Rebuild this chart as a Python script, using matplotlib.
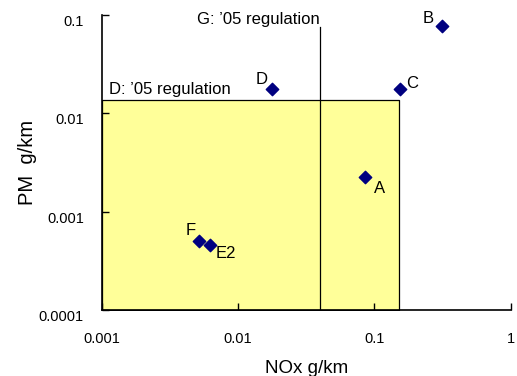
import matplotlib.pyplot as plt
import matplotlib.transforms as mtransforms
import numpy as np

plt.rcParams['font.family'] = ['Liberation Sans', 'DejaVu Sans']

# data
names = ['A', 'B', 'C', 'D', 'E2', 'F']
nox = [0.0855, 0.315, 0.155, 0.0176, 0.0062, 0.0052]
pm = [0.00226, 0.077, 0.0175, 0.0178, 0.00046, 0.000506]

# regulation limits
d_nox_limit = 0.152
d_pm_limit = 0.0137
g_nox_limit = 0.040
g_line_top = 0.075

# label offsets in points (dx, dy, ha, va)
offsets = {
    'A': (6, -3, 'left', 'top'),
    'B': (-6, 0, 'right', 'bottom'),
    'C': (4, -1, 'left', 'bottom'),
    'D': (-3, 1, 'right', 'bottom'),
    'E2': (4, -1, 'left', 'top'),
    'F': (-3, 2, 'right', 'bottom'),
}

fig = plt.figure(figsize=(5.17, 3.76), dpi=100)
ax = fig.add_axes([0.197, 0.1755, 0.791, 0.785])
ax.set_xscale('log')
ax.set_yscale('log')
ax.set_xlim(0.001, 1)
ax.set_ylim(0.0001, 0.1)

# yellow D regulation area
ax.fill_between([0.001, d_nox_limit], 0.0001, d_pm_limit,
                facecolor='#FFFF99', edgecolor='black', linewidth=0.9, zorder=1)
# G regulation line
ax.plot([g_nox_limit, g_nox_limit], [0.0001, g_line_top], color='black', lw=0.9, zorder=2)

ax.scatter(nox, pm, marker='D', s=40, color='#000080', zorder=3)
for n, x, y in zip(names, nox, pm):
    dx, dy, ha, va = offsets[n]
    ax.annotate(n, (x, y), xytext=(dx, dy), textcoords='offset points',
                ha=ha, va=va, fontsize=12)

ax.text(0.00112, 0.0175, "D: \u201905 regulation", fontsize=12, ha='left', va='center')
ax.text(g_nox_limit * 0.99, 0.089, "G: \u201905 regulation", fontsize=12, ha='right', va='center')

ax.spines['top'].set_visible(False)
ax.spines['right'].set_visible(False)
for s in ['left', 'bottom']:
    ax.spines[s].set_linewidth(1.2)

ax.set_xticks([0.001, 0.01, 0.1, 1])
ax.set_xticklabels(['0.001', '0.01', '0.1', '1'])
ax.set_yticks([0.0001, 0.001, 0.01, 0.1])
ax.set_yticklabels(['0.0001', '0.001', '0.01', '0.1'])
ax.minorticks_off()
ax.tick_params(direction='in', length=5, width=1, labelsize=10.5)
ax.tick_params(axis='x', pad=16)
ax.tick_params(axis='y', pad=13)

# y tick labels sit a little below their ticks in the original
shift = mtransforms.ScaledTranslation(0, -4 / 72, fig.dpi_scale_trans)
for lab in ax.get_yticklabels():
    lab.set_transform(lab.get_transform() + shift)

ax.set_xlabel('NOx g/km', fontsize=13.5, labelpad=10)
ax.set_ylabel('PM  g/km', fontsize=14.5, labelpad=1.5)

fig.savefig('out.png', dpi=100)
